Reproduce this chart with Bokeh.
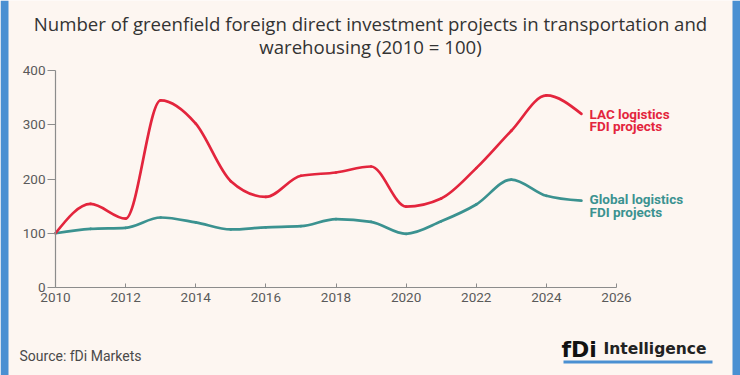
import numpy as np
from bokeh.plotting import figure
from bokeh.models import Label, BoxAnnotation, FixedTicker
from bokeh.embed import file_html
from bokeh.resources import INLINE

years = [2010, 2011, 2012, 2013, 2014, 2015, 2016, 2017, 2018, 2019, 2020, 2021, 2022, 2023, 2024, 2025]
lac = [100, 154, 127, 345, 302, 196, 167, 206, 212, 223, 149, 164, 220, 289, 354, 320]
glob = [100, 108, 110, 129, 120, 107, 111, 113, 126, 121, 99, 122, 153, 199, 169, 160]
x_ticks = [2010, 2012, 2014, 2016, 2018, 2020, 2022, 2024, 2026]
y_ticks = [0, 100, 200, 300, 400]

title_lines = ["Number of greenfield foreign direct investment projects in transportation and",
               "warehousing (2010 = 100)"]
lac_label = ["LAC logistics", "FDI projects"]
glob_label = ["Global logistics", "FDI projects"]
source = "Source: fDi Markets"

RED = "#e3253d"
TEAL = "#3b9290"
BG = "#fdf6f1"
BLUE = "#4a90d2"
FONT = "Roboto"
TITLE_FONT = "Open Sans"

W, H = 740, 375
# axis placement on the canvas (pixels)
X0_PX, X1_PX = 55, 616      # 2010 .. 2026
Y0_PX, Y1_PX = 287, 70      # 0 .. 400
xs_per_px = (x_ticks[-1] - x_ticks[0]) / (X1_PX - X0_PX)
ys_per_px = (y_ticks[-1] - y_ticks[0]) / (Y0_PX - Y1_PX)
x_range = (x_ticks[0] - X0_PX * xs_per_px, x_ticks[-1] + (W - X1_PX) * xs_per_px)
y_range = (y_ticks[0] - (H - Y0_PX) * ys_per_px, y_ticks[-1] + Y1_PX * ys_per_px)

p = figure(width=W, height=H, output_backend="svg", toolbar_location=None,
           x_range=x_range, y_range=y_range,
           min_border=0, min_border_left=0, min_border_right=0,
           min_border_top=0, min_border_bottom=0)
p.background_fill_color = BG
p.border_fill_color = BG
p.outline_line_color = None
p.xgrid.visible = False
p.ygrid.visible = False


def monotone_segments(xs, ys):
    xs = np.asarray(xs, float); ys = np.asarray(ys, float)
    n = len(xs)
    h = np.diff(xs); s = np.diff(ys) / h
    t = np.zeros(n)
    for i in range(1, n - 1):
        s0, s1, h0, h1 = s[i - 1], s[i], h[i - 1], h[i]
        pp = (s0 * h1 + s1 * h0) / (h0 + h1)
        t[i] = (np.sign(s0) + np.sign(s1)) * min(abs(s0), abs(s1), 0.5 * abs(pp))
    t[0] = (3 * s[0] - t[1]) / 2
    t[-1] = (3 * s[-1] - t[-2]) / 2
    dx = h / 3
    return dict(x0=xs[:-1], y0=ys[:-1], x1=xs[1:], y1=ys[1:],
                cx0=xs[:-1] + dx, cy0=ys[:-1] + dx * t[:-1],
                cx1=xs[1:] - dx, cy1=ys[1:] - dx * t[1:])


for data, col in ((glob, TEAL), (lac, RED)):
    seg = monotone_segments(years, data)
    p.bezier(**seg, line_color=col, line_width=2.7, line_cap="round")

# axes drawn inside the frame at fixed data locations
p.xaxis.fixed_location = y_ticks[0]
p.yaxis.fixed_location = x_ticks[0]
p.xaxis.bounds = (x_ticks[0], x_ticks[-1])
p.yaxis.bounds = (y_ticks[0], y_ticks[-1])
p.xaxis.ticker = FixedTicker(ticks=x_ticks)
p.yaxis.ticker = FixedTicker(ticks=y_ticks)
for ax in (p.xaxis, p.yaxis):
    ax.axis_line_color = "#8c8c8c"
    ax.axis_line_width = 1.2
    ax.major_tick_line_color = "#8c8c8c"
    ax.minor_tick_line_color = None
    ax.major_label_text_color = "#5a5a5a"
    ax.major_label_text_font = FONT
    ax.major_label_text_font_size = "13.5px"
p.xaxis.major_tick_in = 4
p.xaxis.major_tick_out = 0
p.xaxis.major_label_standoff = 5
p.yaxis.major_tick_in = 0
p.yaxis.major_tick_out = 8
p.yaxis.major_label_standoff = 2


def add_text(cx, cy, text, **kw):
    # cx, cy: canvas pixels (top-left origin); frame == canvas
    p.add_layout(Label(x=cx, y=H - cy, x_units="screen", y_units="screen",
                       text=text, **kw))


for i, line in enumerate(title_lines):
    add_text(W / 2, 23 + 23 * i, line, text_font=TITLE_FONT, text_font_size="18.6px",
             text_color="#333333", text_align="center", text_baseline="alphabetic")

for i, line in enumerate(lac_label):
    add_text(589, 113 + 12.5 * i, line, text_font=FONT, text_font_size="13.5px",
             text_font_style="bold", text_color=RED, text_baseline="alphabetic")
for i, line in enumerate(glob_label):
    add_text(589, 198.5 + 12.5 * i, line, text_font=FONT, text_font_size="13.5px",
             text_font_style="bold", text_color=TEAL, text_baseline="alphabetic")

add_text(19, 355.5, source, text_font=FONT, text_font_size="14px", text_color="#4a4a4a",
         text_baseline="alphabetic")

# logo
add_text(561, 348.5, "fDi", text_font="DejaVu Sans", text_font_size="22px",
         text_font_style="bold", text_color="#111111", text_baseline="alphabetic")
add_text(603, 348, "Intelligence", text_font="DejaVu Sans", text_font_size="15.5px",
         text_font_style="bold", text_color="#222222", text_baseline="alphabetic")


def add_box(l0, r0, top_px, bot_px, color):
    p.add_layout(BoxAnnotation(left=l0, right=r0, bottom=H - bot_px, top=H - top_px,
                               left_units="screen", right_units="screen",
                               bottom_units="screen", top_units="screen",
                               fill_color=color, fill_alpha=1, line_color=None))


add_box(563, 712, 360, 363, BLUE)
add_box(0, 8, 0, H, BLUE)
add_box(732, W, 0, H, BLUE)

open("out.html", "w").write(file_html(p, INLINE))
